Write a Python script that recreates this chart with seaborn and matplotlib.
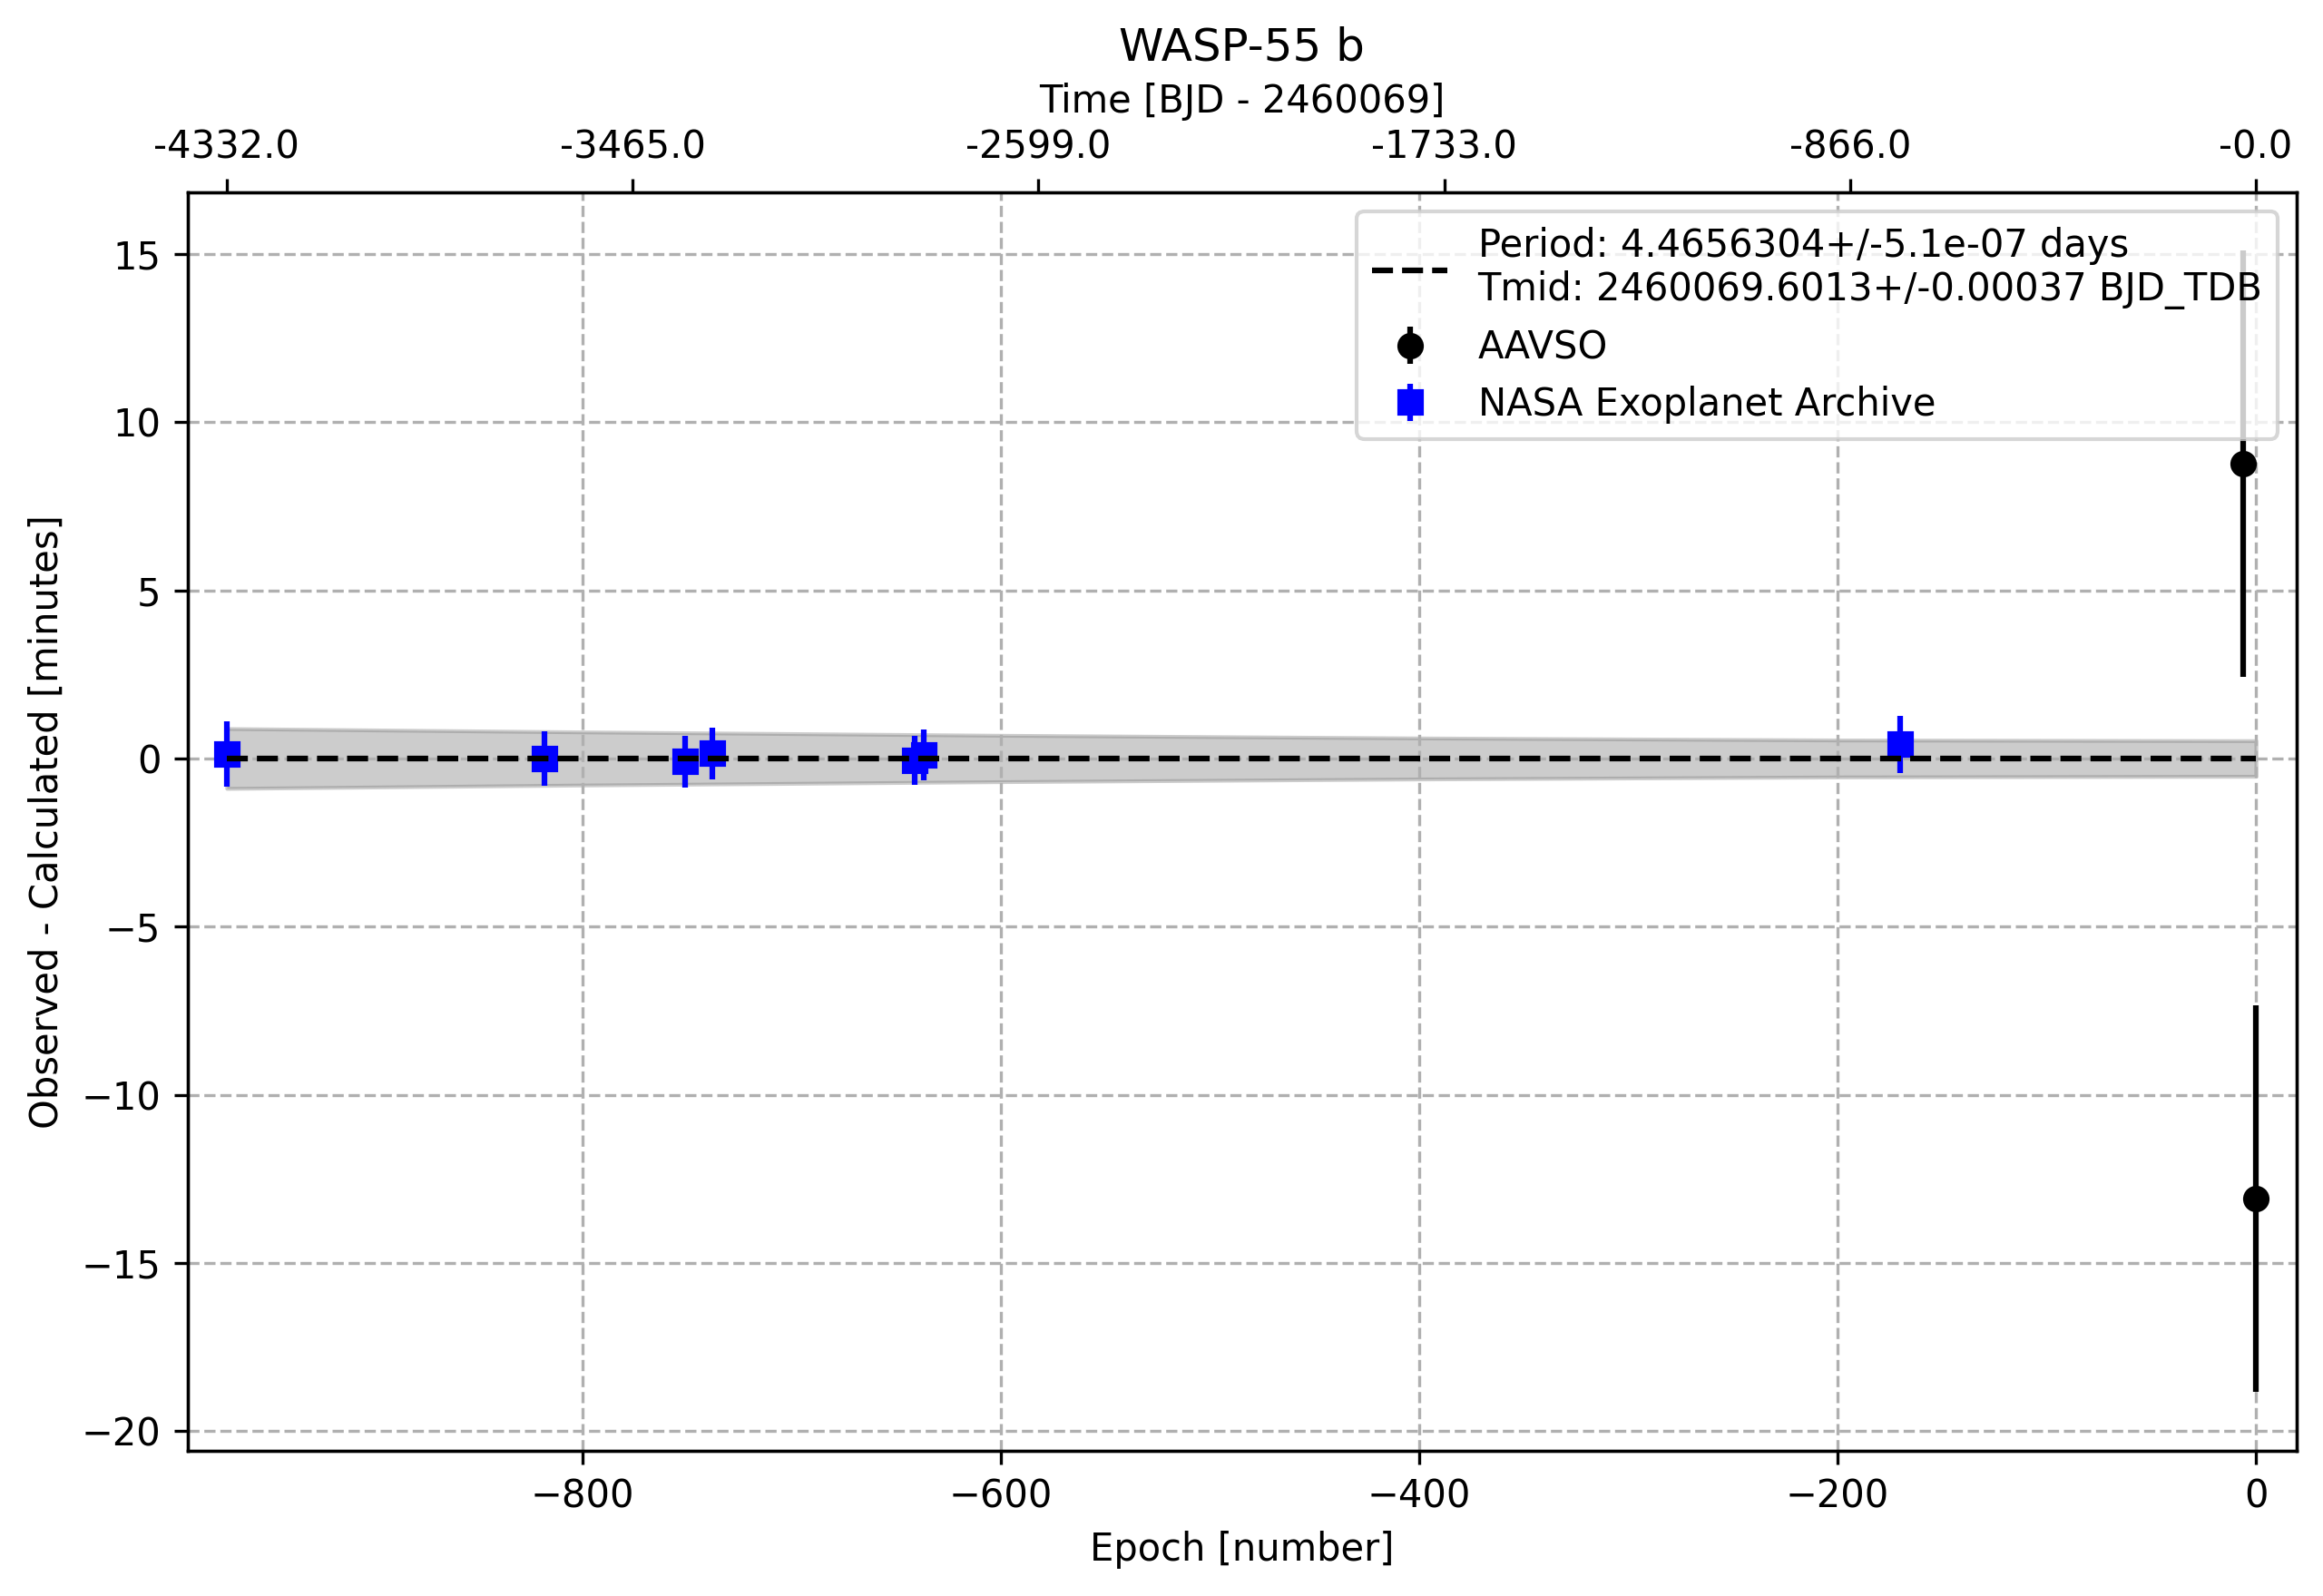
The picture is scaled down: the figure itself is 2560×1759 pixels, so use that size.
import numpy as np
import pandas as pd
import seaborn as sns
import matplotlib
matplotlib.use("Agg")
import matplotlib.pyplot as plt
from matplotlib.lines import Line2D

# O-C data (minutes)
aavso_epoch = [-6, 0]
aavso_oc = [8.77, -13.09]
aavso_err = [6.33, 5.75]

nasa_epoch = [-970, -818, -751, -738, -641, -637, -170]
nasa_oc = [0.13, -0.01, -0.09, 0.15, -0.06, 0.10, 0.42]
nasa_err = [0.98, 0.81, 0.77, 0.77, 0.72, 0.75, 0.86]

# ephemeris uncertainty band (half width, minutes)
band_epoch = [-970, -800, -600, -400, -200, 0]
band_half = [0.89, 0.79, 0.69, 0.61, 0.55, 0.53]

# top axis ticks (epoch positions) and their time labels
top_tick_epoch = [-970, -776, -582, -388, -194, 0]
top_tick_labels = ["-4332.0", "-3465.0", "-2599.0", "-1733.0", "-866.0", "-0.0"]

ephem_label = ("Period: 4.4656304+/-5.1e-07 days\n"
               "Tmid: 2460069.6013+/-0.00037 BJD_TDB")

fig = plt.figure(figsize=(2560 / 300, 1759 / 300), dpi=300)
ax = fig.add_axes([0.0807, 0.0910, 0.9887 - 0.0807, 0.8793 - 0.0910])

band = pd.DataFrame({"Epoch": band_epoch, "half": band_half})
ax.fill_between(band["Epoch"], -band["half"], band["half"], color="gray", alpha=0.4, zorder=1)

line_df = pd.DataFrame({"Epoch": [band_epoch[0], band_epoch[-1]], "OC": [0, 0]})
sns.lineplot(data=line_df, x="Epoch", y="OC", ax=ax, color="black", linestyle="--",
             zorder=4, legend=False)

ax.errorbar(aavso_epoch, aavso_oc, yerr=aavso_err, fmt="o", color="black",
            ls="none", zorder=3, label="AAVSO")
ax.errorbar(nasa_epoch, nasa_oc, yerr=nasa_err, fmt="s", color="blue",
            ls="none", zorder=3, label="NASA Exoplanet Archive")

ax.set_xlim(-988.8, 19.5)
ax.set_ylim(-20.59, 16.83)
ax.grid(True, ls="--")
ax.set_xlabel("Epoch [number]")
ax.set_ylabel("Observed - Calculated [minutes]")

handles, labels = ax.get_legend_handles_labels()
ephem_handle = Line2D([], [], color="black", ls="--")
ax.legend([ephem_handle] + handles, [ephem_label] + labels, loc="upper right")

ax2 = ax.twiny()
ax2.set_xlim(ax.get_xlim())
ax2.set_xticks(top_tick_epoch)
ax2.set_xticklabels(top_tick_labels)
ax2.set_xlabel("Time [BJD - 2460069]")
ax.set_title("WASP-55 b")

fig.savefig("out.png", dpi=300)
